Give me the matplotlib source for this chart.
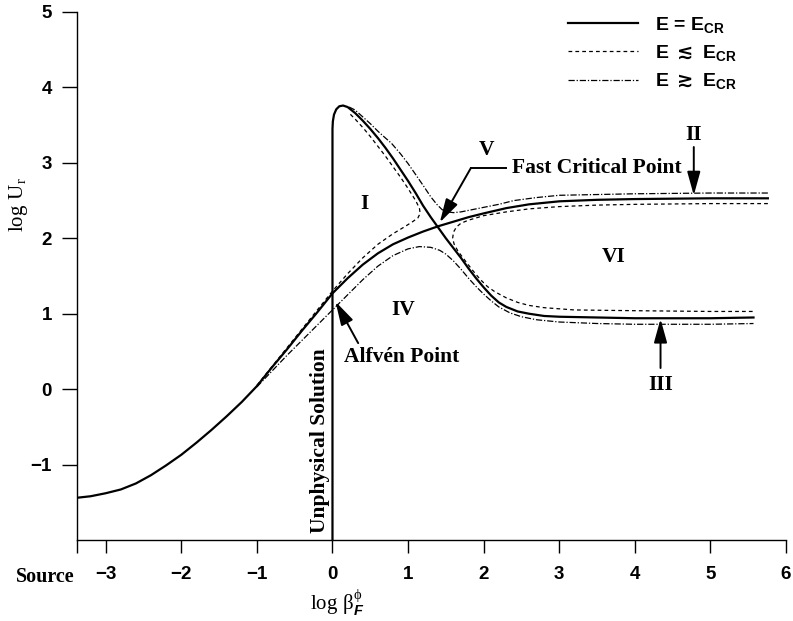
import matplotlib
matplotlib.use("Agg")
import matplotlib.pyplot as plt

plt.rcParams['mathtext.fontset'] = 'custom'
plt.rcParams['mathtext.rm'] = 'Liberation Serif'
plt.rcParams['mathtext.it'] = 'Liberation Sans:italic:bold'
plt.rcParams['mathtext.bf'] = 'Liberation Sans:bold'
plt.rcParams['mathtext.sf'] = 'DejaVu Sans:bold'
plt.rcParams['mathtext.fallback'] = 'stixsans'

# separatrix through the Alfven point (E = E_CR)
crit_acc_x = [-3.38, -3.2, -3.0, -2.8, -2.6, -2.4, -2.2, -2.0, -1.8, -1.6, -1.4, -1.2, -1.0,
              -0.8, -0.6, -0.4, -0.2, 0.0, 0.2, 0.4, 0.6, 0.8, 1.0, 1.2, 1.4, 1.6, 1.8,
              2.0, 2.3, 2.6, 3.0, 3.5, 4.0, 5.0, 5.76]
crit_acc_y = [-1.44, -1.42, -1.38, -1.33, -1.25, -1.14, -1.01, -0.87, -0.71, -0.54, -0.36,
              -0.17, 0.04, 0.29, 0.53, 0.78, 1.02, 1.27, 1.47, 1.65, 1.80, 1.92, 2.01, 2.09,
              2.16, 2.22, 2.28, 2.33, 2.40, 2.45, 2.49, 2.51, 2.52, 2.53, 2.53]

# separatrix rising from the unphysical branch (E = E_CR)
crit_dec_x = [0.0, 0.0, 0.005, 0.02, 0.05, 0.09, 0.14, 0.2, 0.3, 0.4, 0.5, 0.6, 0.7, 0.8,
              0.9, 1.0, 1.1, 1.2, 1.3, 1.4, 1.5, 1.6, 1.7, 1.8, 1.9, 2.0, 2.1, 2.2, 2.3,
              2.45, 2.6, 2.8, 3.0, 3.5, 4.0, 5.0, 5.57]
crit_dec_y = [-2.0, 3.45, 3.55, 3.64, 3.71, 3.75, 3.76, 3.74, 3.66, 3.56, 3.45, 3.33, 3.20,
              3.06, 2.91, 2.76, 2.60, 2.43, 2.28, 2.14, 2.00, 1.87, 1.74, 1.60, 1.47, 1.35,
              1.24, 1.15, 1.09, 1.03, 1.00, 0.97, 0.96, 0.95, 0.94, 0.94, 0.95]

# E slightly below E_CR: region I and region VI branches
low_I_x = [-1.0, -0.8, -0.6, -0.4, -0.2, 0.0, 0.2, 0.4, 0.6, 0.8, 0.95, 1.06, 1.13, 1.16,
           1.15, 1.10, 1.0, 0.9, 0.8, 0.7, 0.6, 0.5, 0.4, 0.3, 0.22]
low_I_y = [0.05, 0.30, 0.55, 0.80, 1.05, 1.30, 1.53, 1.74, 1.92, 2.06, 2.15, 2.22, 2.27,
           2.33, 2.40, 2.50, 2.66, 2.81, 2.95, 3.09, 3.22, 3.35, 3.47, 3.58, 3.66]
low_VI_x = [5.76, 5.0, 4.0, 3.5, 3.0, 2.6, 2.3, 2.0, 1.8, 1.7, 1.64, 1.6, 1.59, 1.61, 1.66,
            1.75, 1.85, 1.95, 2.05, 2.15, 2.3, 2.45, 2.6, 2.8, 3.2, 4.0, 5.0, 5.57]
low_VI_y = [2.46, 2.46, 2.45, 2.44, 2.42, 2.39, 2.35, 2.30, 2.24, 2.20, 2.15, 2.08, 2.00,
            1.92, 1.83, 1.71, 1.58, 1.46, 1.36, 1.29, 1.21, 1.15, 1.11, 1.08, 1.05, 1.04,
            1.03, 1.03]

# E slightly above E_CR: region V and region IV branches
high_V_x = [0.22, 0.3, 0.4, 0.5, 0.6, 0.7, 0.78, 0.9, 1.0, 1.09, 1.2, 1.3, 1.38, 1.45, 1.52,
            1.6, 1.7, 1.85, 2.0, 2.2, 2.4, 2.7, 3.0, 3.5, 4.0, 5.0, 5.76]
high_V_y = [3.74, 3.70, 3.61, 3.52, 3.42, 3.33, 3.26, 3.12, 2.99, 2.86, 2.70, 2.55, 2.45,
            2.38, 2.35, 2.34, 2.35, 2.38, 2.41, 2.45, 2.50, 2.54, 2.57, 2.58, 2.59, 2.60, 2.60]
high_IV_x = [-1.0, -0.8, -0.6, -0.4, -0.2, 0.0, 0.2, 0.4, 0.6, 0.8, 1.0, 1.15, 1.3, 1.42,
             1.5, 1.6, 1.7, 1.8, 1.9, 2.0, 2.1, 2.2, 2.35, 2.5, 2.7, 3.0, 3.5, 4.0, 5.0, 5.57]
high_IV_y = [0.03, 0.24, 0.45, 0.65, 0.85, 1.05, 1.25, 1.45, 1.63, 1.77, 1.86, 1.89, 1.88,
             1.84, 1.79, 1.70, 1.59, 1.47, 1.36, 1.26, 1.17, 1.09, 1.01, 0.96, 0.92, 0.89,
             0.87, 0.86, 0.86, 0.87]

xticks = [-3, -2, -1, 0, 1, 2, 3, 4, 5, 6]
yticks = [-1, 0, 1, 2, 3, 4, 5]
x_source = -3.38

fig = plt.figure(figsize=(7.93, 6.21), dpi=100)
ax = fig.add_axes([77 / 793, 81 / 621, 709 / 793, 528 / 621])

dash = (0, (3, 2.5))
dashdot = (0, (5, 1.5, 1, 1.5))
ax.plot(crit_acc_x, crit_acc_y, color='k', lw=1.6, label='E = E$_{\\mathbf{CR}}$')
ax.plot(crit_dec_x, crit_dec_y, color='k', lw=1.6)
ax.plot(low_I_x, low_I_y, color='k', lw=0.9, ls=dash,
        label='E $\\mathsf{\\lesssim}$ E$_{\\mathbf{CR}}$')
ax.plot(low_VI_x, low_VI_y, color='k', lw=0.9, ls=dash)
ax.plot(high_V_x, high_V_y, color='k', lw=0.9, ls=dashdot,
        label='E $\\mathsf{\\gtrsim}$ E$_{\\mathbf{CR}}$')
ax.plot(high_IV_x, high_IV_y, color='k', lw=0.9, ls=dashdot)

ax.set_xlim(x_source, 6.0)
ax.set_ylim(-2.0, 5.0)
ax.set_xticks(xticks)
ax.set_xticks([x_source], minor=True)
ax.set_yticks(yticks)
ax.set_xticklabels([str(t).replace('-', '\u2212') for t in xticks])
ax.set_yticklabels([str(t).replace('-', '\u2212') for t in yticks])
for s in ['top', 'right']:
    ax.spines[s].set_visible(False)
for s in ['left', 'bottom']:
    ax.spines[s].set_linewidth(1.0)
ax.tick_params(axis='x', which='both', direction='out', length=9, width=1, pad=10)
ax.tick_params(axis='y', direction='out', length=11, width=1, pad=7)
for lab in ax.get_xticklabels() + ax.get_yticklabels():
    lab.set_fontfamily('Liberation Sans')
    lab.set_fontweight('bold')
    lab.set_fontsize(13.5)

serif = dict(family='Liberation Serif', weight='bold', fontsize=15.5, color='k')
fig.text(75 / 793, 1 - 577 / 621, 'Source', ha='right', va='center',
         family='Liberation Serif', weight='bold', fontsize=14.5)
fig.text(337 / 793, 1 - 603 / 621, r'$\mathrm{log}\ \mathrm{\beta}^{\mathrm{\phi}}_{F}$',
         ha='center', va='center', fontsize=15)
fig.text(18 / 793, 1 - 205 / 621, r'$\mathrm{log\ U_r}$', ha='center', va='center',
         rotation=90, fontsize=15)

# region labels
ax.text(0.42, 2.46, 'I', ha='center', va='center', **serif)
ax.text(0.93, 1.05, 'IV', ha='center', va='center', **serif)
ax.text(2.04, 3.17, 'V', ha='center', va='center', **serif)
ax.text(3.72, 1.75, 'VI', ha='center', va='center', **serif)
ax.text(-0.17, -0.68, 'Unphysical Solution', ha='center', va='center', rotation=90, **serif)

arrow = dict(arrowstyle='-|>,head_length=0.9,head_width=0.25', color='k', lw=1.4,
             mutation_scale=16, shrinkA=0, shrinkB=0)
# fast critical point
ax.plot([1.83, 2.29], [2.93, 2.93], color='k', lw=1.4)
ax.annotate('', xy=(1.42, 2.21), xytext=(1.83, 2.93), arrowprops=arrow)
ax.text(2.37, 2.93, 'Fast Critical Point', ha='left', va='center', **serif)
# Alfven point
ax.annotate('', xy=(0.04, 1.16), xytext=(0.34, 0.61), arrowprops=arrow)
ax.text(0.15, 0.42, 'Alfv\u00e9n Point', ha='left', va='center', **serif)
# II and III
ax.annotate('', xy=(4.78, 2.57), xytext=(4.78, 3.21), arrowprops=arrow)
ax.text(4.78, 3.37, 'II', ha='center', va='center', **serif)
ax.annotate('', xy=(4.34, 0.93), xytext=(4.34, 0.28), arrowprops=arrow)
ax.text(4.34, 0.05, 'III', ha='center', va='center', **serif)

leg = ax.legend(loc='upper left', bbox_to_anchor=(568 / 793, 1 - 15 / 621),
                bbox_transform=fig.transFigure, frameon=False, borderpad=0,
                borderaxespad=0, handlelength=3.6, handletextpad=0.85, labelspacing=0.42,
                prop=dict(family='Liberation Sans', weight='bold', size=14))

fig.savefig('out.png', dpi=100)
